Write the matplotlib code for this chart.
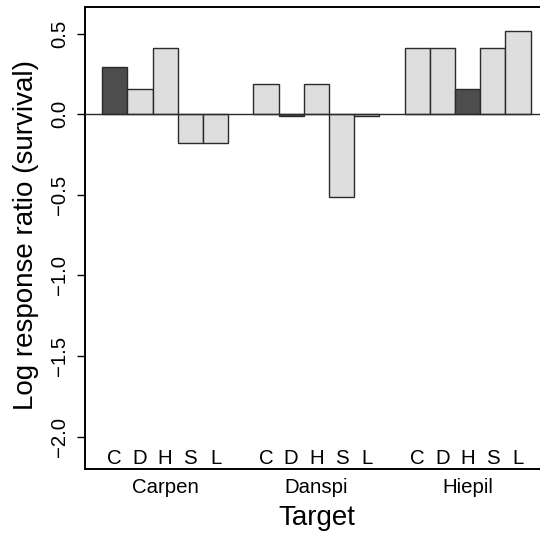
import matplotlib
matplotlib.use('Agg')
import matplotlib.pyplot as plt
import matplotlib.transforms as mtransforms

plt.rcParams['font.family'] = ['Liberation Sans', 'DejaVu Sans']

# data
targets = ['Carpen', 'Danspi', 'Hiepil']
neighbours = ['C', 'D', 'H', 'S', 'L']
carpen = [0.293, 0.157, 0.409, -0.180, -0.180]
danspi = [0.186, -0.012, 0.186, -0.512, -0.008]
hiepil = [0.409, 0.409, 0.157, 0.409, 0.517]
# conspecific neighbour is drawn dark
conspecific = ['C', 'D', 'H']

DARK = '#4d4d4d'
LIGHT = '#dedede'
EDGE = '#2b2b2b'

fig = plt.figure(figsize=(5.4, 5.37), dpi=100)
ax = fig.add_axes([85 / 540, 68 / 537, 462.7 / 540, 462 / 537])

group_values = [carpen, danspi, hiepil]
bar_x = []
for g, values in enumerate(group_values):
    lefts = [1 + 6 * g + i for i in range(len(values))]
    colors = [DARK if n == conspecific[g] else LIGHT for n in neighbours]
    ax.bar(lefts, values, width=1, align='edge', color=colors,
           edgecolor=EDGE, linewidth=1.0, zorder=2)
    bar_x.extend([x + 0.5 for x in lefts])

ax.axhline(0, color=EDGE, linewidth=1.0, zorder=3)

ax.set_xlim(0.32, 18.68)
ax.set_ylim(-2.2, 0.665)

# letters for neighbours inside the plot
trans = mtransforms.blended_transform_factory(ax.transData, ax.transAxes)
for i, x in enumerate(bar_x):
    ax.text(x, 0.011, neighbours[i % len(neighbours)], transform=trans,
            ha='center', va='baseline', fontsize=14.7)

ax.set_xticks([3.5, 9.5, 15.5])
ax.set_xticklabels(targets, fontsize=14.7)
ax.tick_params(axis='x', length=0, pad=6.5)

yt = [-2.0, -1.5, -1.0, -0.5, 0.0, 0.5]
ax.set_yticks(yt)
ax.set_yticklabels(['\u2212%.1f' % abs(v) if v < 0 else '%.1f' % v for v in yt],
                   fontsize=14.7, rotation=90, va='center')
ax.tick_params(axis='y', length=5.8, width=1.0, pad=5.5)

for s in ax.spines.values():
    s.set_linewidth(1.4)

fig.text(33 / 540, 1 - 235 / 537, 'Log response ratio (survival)', rotation=90,
         rotation_mode='anchor', ha='center', va='baseline', fontsize=20)
fig.text(317 / 540, 12 / 537, 'Target', ha='center', va='baseline', fontsize=20)

fig.savefig('out.png', dpi=100)
